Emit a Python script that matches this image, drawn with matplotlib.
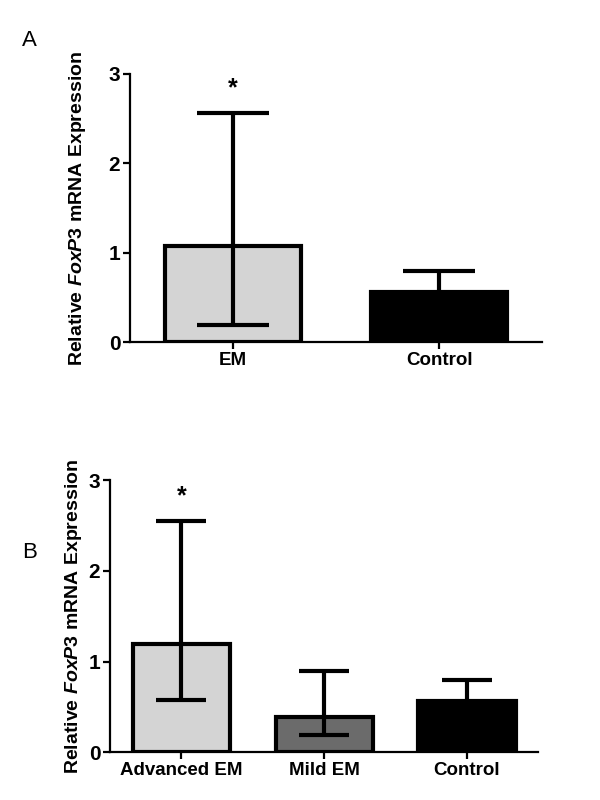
import matplotlib
matplotlib.use("Agg")
import matplotlib.pyplot as plt
import numpy as np

plt.rcParams['font.family'] = ['Liberation Sans', 'DejaVu Sans']
plt.rcParams['mathtext.fontset'] = 'custom'
plt.rcParams['mathtext.it'] = 'Liberation Sans:italic:bold'
plt.rcParams['mathtext.rm'] = 'Liberation Sans:bold'

# panel A
groups_a = ['EM', 'Control']
means_a = [1.08, 0.56]
err_lo_a = [0.19, 0.33]
err_hi_a = [2.56, 0.795]
colors_a = ['#d4d4d4', '#000000']
stars_a = ['*', '']

# panel B
groups_b = ['Advanced EM', 'Mild EM', 'Control']
means_b = [1.20, 0.39, 0.57]
err_lo_b = [0.58, 0.19, 0.34]
err_hi_b = [2.55, 0.895, 0.80]
colors_b = ['#d4d4d4', '#6b6b6b', '#000000']
stars_b = ['*', '', '']

ylabel = r'Relative $\mathit{FoxP3}$ mRNA Expression'

fig = plt.figure(figsize=(6, 8), dpi=100)


def panel(ax, groups, means, lo, hi, colors, stars, width, capsize, labelpad):
    x = np.arange(len(groups))
    means = np.array(means)
    yerr = [means - np.array(lo), np.array(hi) - means]
    ax.bar(x, means, width=width, color=colors, edgecolor='black', linewidth=3, zorder=2)
    ax.errorbar(x, means, yerr=yerr, fmt='none', ecolor='black', elinewidth=3,
                capsize=capsize, capthick=3, zorder=3)
    for xi, h, s in zip(x, hi, stars):
        if s:
            ax.text(xi, h + 0.14, s, ha='center', va='bottom', fontsize=18,
                    fontweight='bold', clip_on=False)
    ax.set_xlim(-0.5, len(groups) - 0.5)
    ax.set_ylim(0, 3)
    ax.set_yticks([0, 1, 2, 3])
    ax.set_xticks(x)
    ax.set_xticklabels(groups, fontweight='bold', fontsize=13.5)
    for lab in ax.get_yticklabels():
        lab.set_fontweight('bold')
        lab.set_fontsize(15)
    ax.spines['top'].set_visible(False)
    ax.spines['right'].set_visible(False)
    ax.spines['left'].set_linewidth(1.6)
    ax.spines['bottom'].set_linewidth(1.6)
    ax.tick_params(axis='both', width=1.6, length=5, pad=2)
    ax.set_ylabel(ylabel, fontsize=14, fontweight='bold', labelpad=labelpad)


ax1 = fig.add_axes([0.2167, 0.572, 0.687, 0.336])
panel(ax1, groups_a, means_a, err_lo_a, err_hi_a, colors_a, stars_a, 0.66, 26, 15)

ax2 = fig.add_axes([0.1833, 0.0596, 0.714, 0.340])
panel(ax2, groups_b, means_b, err_lo_b, err_hi_b, colors_b, stars_b, 0.68, 18, 3)

fig.text(0.037, 0.942, 'A', fontsize=16)
fig.text(0.037, 0.302, 'B', fontsize=16)

fig.savefig('out.png', dpi=100, facecolor='white')
